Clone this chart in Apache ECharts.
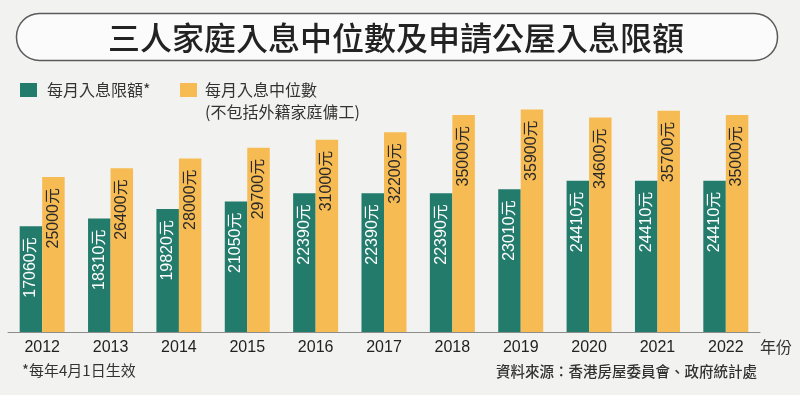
<!DOCTYPE html>
<html>
<head>
<meta charset="utf-8">
<script src="https://cdn.jsdelivr.net/npm/echarts@6/dist/echarts.min.js"></script>
<style>
html,body{margin:0;padding:0;background:#f2f3f1;}
#c{width:800px;height:395px;}
</style>
</head>
<body>
<div id="c"></div>
<script>
const years = ['2012','2013','2014','2015','2016','2017','2018','2019','2020','2021','2022'];
const incomeLimit = [17060,18310,19820,21050,22390,22390,22390,23010,24410,24410,24410];
const medianIncome = [25000,26400,28000,29700,31000,32200,35000,35900,34600,35700,35000];
const seriesNames = ['每月入息限額*','每月入息中位數'];
const legendNote = '(不包括外籍家庭傭工)';
const titleText = '三人家庭入息中位數及申請公屋入息限額';
const footnote = '*每年4月1日生效';
const sourceText = '資料來源：香港房屋委員會、政府統計處';
const axisUnit = '年份';
const unit = '元';

const FONT = "'Liberation Sans', 'Noto Sans CJK TC', sans-serif";
const CJK = "'Noto Sans CJK TC', 'Liberation Sans', sans-serif";
const GREEN = '#237b6c';
const ORANGE = '#f6bb52';

const chart = echarts.init(document.getElementById('c'));
chart.setOption({
  backgroundColor: '#f2f3f1',
  animation: false,
  grid: {left: 8, right: 40, top: 84, bottom: 63},
  xAxis: {
    type: 'category',
    data: years,
    axisLine: {lineStyle: {color: '#8c8c8c', width: 1}},
    axisTick: {show: false},
    axisLabel: {color: '#222', fontSize: 16, fontFamily: FONT, margin: 8}
  },
  yAxis: {
    type: 'value', min: 0, max: 40000, show: false,
    splitLine: {show: false}
  },
  series: [
    {
      name: seriesNames[0], type: 'bar', data: incomeLimit,
      barWidth: 22.5, barGap: '0%',
      itemStyle: {color: GREEN},
      label: {
        show: true, position: 'insideTop', rotate: 90, distance: 11,
        align: 'right', verticalAlign: 'middle',
        formatter: p => p.value + unit,
        color: '#ffffff', fontSize: 16, fontFamily: FONT
      }
    },
    {
      name: seriesNames[1], type: 'bar', data: medianIncome,
      barWidth: 22.5, barGap: '0%',
      itemStyle: {color: ORANGE},
      label: {
        show: true, position: 'insideTop', rotate: 90, distance: 11,
        align: 'right', verticalAlign: 'middle',
        formatter: p => p.value + unit,
        color: '#2a2a2a', fontSize: 16, fontFamily: FONT
      }
    }
  ],
  graphic: [
    {type: 'rect', shape: {x: 16.5, y: 13.5, width: 761, height: 47, r: 23},
     style: {fill: '#fbfbfb', stroke: '#5a5a5a', lineWidth: 1.5}},
    {type: 'text', x: 396, y: 38, style: {text: titleText, fill: '#222', font: "500 32px " + CJK, align: 'center', verticalAlign: 'middle'}},
    {type: 'rect', shape: {x: 20, y: 83, width: 17, height: 14}, style: {fill: GREEN}},
    {type: 'text', x: 47, y: 90, style: {text: seriesNames[0], fill: '#333', font: "16px " + CJK, verticalAlign: 'middle'}},
    {type: 'rect', shape: {x: 180, y: 83, width: 17, height: 14}, style: {fill: ORANGE}},
    {type: 'text', x: 205, y: 90, style: {text: seriesNames[1], fill: '#333', font: "16px " + CJK, verticalAlign: 'middle'}},
    {type: 'text', x: 205, y: 112, style: {text: legendNote, fill: '#333', font: "16px " + CJK, verticalAlign: 'middle'}},
    {type: 'text', x: 22, y: 370, style: {text: footnote, fill: '#333', font: "15px " + CJK, verticalAlign: 'middle'}},
    {type: 'text', x: 757, y: 371, style: {text: sourceText, fill: '#333', font: "500 14.5px " + CJK, align: 'right', verticalAlign: 'middle'}},
    {type: 'text', x: 760, y: 347, style: {text: axisUnit, fill: '#333', font: "16px " + CJK, verticalAlign: 'middle'}}
  ]
});
</script>
</body>
</html>
